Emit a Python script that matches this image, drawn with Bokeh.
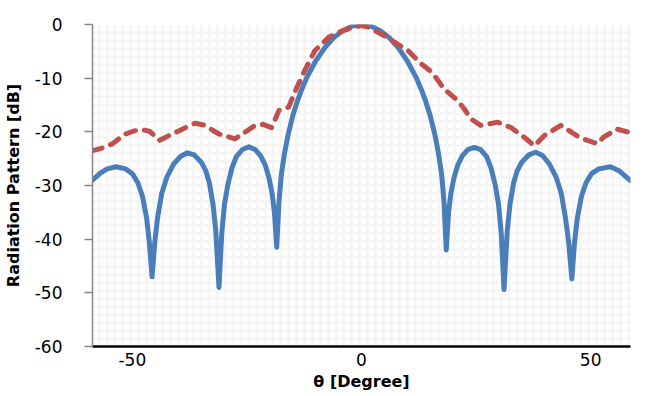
import numpy as np
from bokeh.plotting import figure
from bokeh.models import Range1d, FixedTicker
from bokeh.embed import file_html
from bokeh.resources import INLINE

# ---- data ----
theta_uniform = [-58.7, -57, -55.5, -53.5, -51.5, -50, -48.8, -47.8, -46.9, -46.3, -45.7, -45.1,
                 -44.5, -43.6, -42.5, -41, -39.5, -38, -36.5, -35, -34, -33.2, -32.4, -31.8,
                 -31.1, -30.5, -29.9, -29.2, -28.3, -27.3, -26, -24.6, -23.2, -22, -21, -20.2,
                 -19.5, -19, -18.5, -18, -17.5, -16.8, -16, -15, -14, -13, -12, -10, -8, -6,
                 -4, -2, 0, 2, 4, 6, 8, 10, 12, 13, 14, 15, 16, 16.8, 17.5, 18, 18.5, 19,
                 19.5, 20.2, 21, 22, 23.2, 24.6, 26, 27.3, 28.3, 29.2, 29.9, 30.5, 31.1, 31.8,
                 32.4, 33.2, 34, 35, 36.5, 38, 39.5, 41, 42.5, 43.6, 44.5, 45.2, 45.9, 46.5,
                 47.1, 48, 49, 50.2, 51.8, 54.3, 56.3, 58.7]
pattern_uniform = [-29.0, -27.7, -26.9, -26.5, -26.9, -27.8, -29.5, -32, -36, -40.5, -47, -40.5,
                   -36, -31.5, -28.5, -26, -24.6, -23.9, -24.3, -25.6, -27.2, -29.5, -33.5, -38.5,
                   -49, -39, -33.5, -30, -26.8, -24.6, -23.3, -22.8, -23.3, -24.5, -26.2, -28.5,
                   -31.5, -35, -41.5, -33, -28, -24, -20.5, -17, -14.3, -12, -10, -6.8, -4.3, -2.4,
                   -1.1, -0.3, 0, -0.3, -1.1, -2.4, -4.3, -6.8, -10, -12, -14.3, -17, -20.5, -24, -28, -33,
                   -42, -35, -31.5, -28.5, -26.2, -24.5, -23.3, -22.9, -23.3, -24.6, -26.8, -30, -33.5, -39,
                   -49.4, -38.5, -33.5, -29.5, -27.2, -25.6, -24.3, -23.8, -24.4, -26, -28.5, -31.5,
                   -36, -40.5, -47.4, -40.5, -36, -32, -29.5, -27.8, -26.9, -26.5, -27.3, -29.1]

theta_proposed = [-58.7, -56.5, -54.3, -52.8, -51.5, -49.5, -47.8, -46.3, -45, -44.1, -42, -39.1,
                  -36.3, -34.1, -32.5, -31.1, -29.5, -27.6, -26, -23.2, -21.5, -19.6, -18, -15.9,
                  -14.1, -12.4, -10.2, -7.2, -4.5, -2.8, 0, 1.5, 2.8, 5, 7.2, 10.2, 13, 15.2,
                  16.7, 18, 21, 22.4, 23.9, 26, 28, 29.7, 32.6, 35.5, 37.7, 39.9, 43.5, 45.7,
                  47.5, 49.3, 51.5, 52.8, 55.8, 58, 58.7]
pattern_proposed = [-23.5, -23.0, -22.2, -21.2, -20.4, -19.8, -19.6, -19.9, -20.8, -21.6, -20.7, -19.5,
                    -18.4, -18.8, -19.7, -20.4, -20.8, -21.3, -20.4, -18.8, -18.6, -19.2, -16, -15.4,
                    -11.7, -8.6, -4.9, -2.4, -1.3, -0.8, -0.2, -0.5, -1.1, -2.1, -3.3, -4.9, -7.3, -8.8,
                    -10.4, -12, -14.2, -15.7, -17.6, -18.8, -18.5, -18.2, -19.2, -21, -22.6, -20.7, -18.8, -20,
                    -21, -21.6, -22.2, -21, -19.5, -20, -20.3]

x_ticks = [-50, 0, 50]
x_tick_labels = ["-50", "0", "50"]
y_ticks = [0, -10, -20, -30, -40, -50, -60]
y_tick_labels = ["0", "-10", "-20", "-30", "-40", "-50", "-60"]

# ---- figure ----
p = figure(width=650, height=396, output_backend="svg", toolbar_location=None,
           x_range=Range1d(-58.7, 58.7), y_range=Range1d(-60, 0),
           min_border_left=90, min_border_right=20, min_border_top=24, min_border_bottom=50)
p.outline_line_color = None
p.background_fill_color = "white"
p.border_fill_color = "white"

FONT = "DejaVu Sans"

# grid (fine minor-style grid)
p.xgrid.ticker = FixedTicker(ticks=list(np.arange(-57.24, 58.8, 1.723)))
p.ygrid.ticker = FixedTicker(ticks=list(np.arange(0, -60.01, -1.5)))
for g in (p.xgrid, p.ygrid):
    g.grid_line_color = "#F3F3F3"
    g.grid_line_width = 2

# x axis
xa = p.xaxis[0]
xa.ticker = FixedTicker(ticks=x_ticks)
xa.major_label_overrides = {t: l for t, l in zip(x_ticks, x_tick_labels)}
xa.axis_line_color = "black"
xa.axis_line_width = 2.5
xa.major_tick_out = 0
xa.major_tick_in = 0
xa.minor_tick_out = 0
xa.minor_tick_in = 0
xa.major_label_text_font = FONT
xa.major_label_text_font_size = "17px"
xa.major_label_text_color = "black"
xa.major_label_standoff = 6
xa.axis_label = "θ [Degree]"
xa.axis_label_text_font = FONT
xa.axis_label_text_font_style = "bold"
xa.axis_label_text_font_size = "16px"
xa.axis_label_text_color = "black"
xa.axis_label_standoff = 3

# y axis
ya = p.yaxis[0]
ya.ticker = FixedTicker(ticks=y_ticks)
ya.major_label_overrides = {t: l for t, l in zip(y_ticks, y_tick_labels)}
ya.axis_line_color = "#868686"
ya.axis_line_width = 1.5
ya.major_tick_out = 8
ya.major_tick_in = 0
ya.major_tick_line_color = "#868686"
ya.major_tick_line_width = 1.5
ya.minor_tick_out = 0
ya.minor_tick_in = 0
ya.major_label_text_font = FONT
ya.major_label_text_font_size = "17px"
ya.major_label_text_color = "black"
ya.major_label_standoff = 22
ya.axis_label = "Radiation Pattern [dB]"
ya.axis_label_text_font = FONT
ya.axis_label_text_font_style = "bold"
ya.axis_label_text_font_size = "16px"
ya.axis_label_text_color = "black"
ya.axis_label_standoff = 9

# curves
p.line(theta_uniform, pattern_uniform, line_color="#4A7EBB", line_width=5,
       line_join="round", line_cap="round")
p.line(theta_proposed, pattern_proposed, line_color="#C0504D", line_width=5,
       line_dash="10 9", line_cap="round", line_join="round")

open("out.html", "w").write(file_html(p, INLINE))
